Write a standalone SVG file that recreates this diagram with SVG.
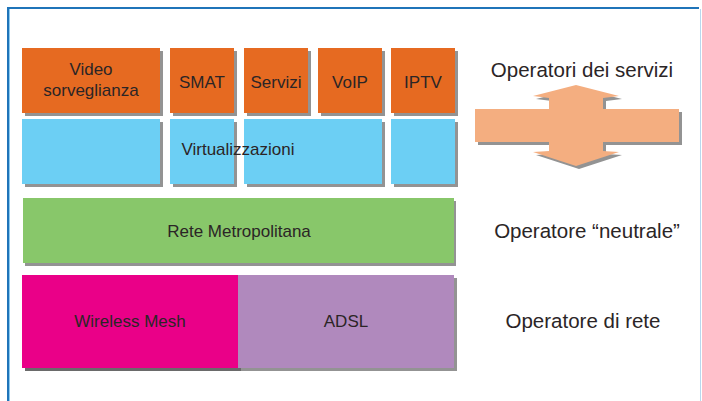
<svg xmlns="http://www.w3.org/2000/svg" width="702" height="401" viewBox="0 0 702 401">
<style>
.sh{fill:#939393}
.or{fill:#e66a21}
.bl{fill:#6ccff4}
.t{font-family:"Liberation Sans",Arial,sans-serif;font-size:17px;fill:#2b2526;text-anchor:middle}
.r{font-family:"Liberation Sans",Arial,sans-serif;font-size:20.5px;fill:#2b2526;text-anchor:middle}
</style>
<rect width="702" height="401" fill="#ffffff"/>
<g id="frame">
<line x1="7" y1="8" x2="699" y2="8" stroke="#1f74b9" stroke-width="2"/>
<line x1="8" y1="7" x2="8" y2="401" stroke="#1f74b9" stroke-width="2"/>
<line x1="9.5" y1="9" x2="9.5" y2="401" stroke="#8ccaf0" stroke-width="1"/>
<line x1="700.5" y1="9" x2="700.5" y2="401" stroke="#b8d8ee" stroke-width="1"/>
</g>
<g id="video">
<rect class="sh" x="25" y="51" width="138" height="65"/>
<rect class="or" x="22" y="48" width="138" height="65"/>
<text class="t" x="91" y="75">Video</text>
<text class="t" x="91" y="96">sorveglianza</text>
</g>
<g id="smat">
<rect class="sh" x="173" y="51" width="64" height="65"/>
<rect class="or" x="170" y="48" width="64" height="65"/>
<text class="t" x="202" y="88">SMAT</text>
</g>
<g id="servizi">
<rect class="sh" x="247" y="51" width="64" height="65"/>
<rect class="or" x="244" y="48" width="64" height="65"/>
<text class="t" x="276" y="88">Servizi</text>
</g>
<g id="voip">
<rect class="sh" x="321" y="51" width="64" height="65"/>
<rect class="or" x="318" y="48" width="64" height="65"/>
<text class="t" x="350" y="88">VoIP</text>
</g>
<g id="iptv">
<rect class="sh" x="394" y="51" width="64" height="65"/>
<rect class="or" x="391" y="48" width="64" height="65"/>
<text class="t" x="423" y="88">IPTV</text>
</g>
<g id="virtualizzazioni">
<rect class="sh" x="25" y="122" width="138" height="65"/>
<rect class="bl" x="22" y="119" width="138" height="65"/>
<rect class="sh" x="173" y="122" width="64" height="65"/>
<rect class="bl" x="170" y="119" width="64" height="65"/>
<rect class="sh" x="247" y="122" width="138" height="65"/>
<rect class="bl" x="244" y="119" width="138" height="65"/>
<rect class="sh" x="394" y="122" width="64" height="65"/>
<rect class="bl" x="391" y="119" width="64" height="65"/>
<text class="t" x="238" y="155">Virtualizzazioni</text>
</g>
<g id="rete-metropolitana">
<rect class="sh" x="25" y="201" width="431" height="65"/>
<rect x="23" y="198" width="431" height="65" fill="#88c76a"/>
<text class="t" x="239" y="237">Rete Metropolitana</text>
</g>
<g id="wireless-mesh">
<rect x="25" y="278" width="216" height="93" fill="#6a6a6a"/>
<rect x="22" y="275" width="216" height="93" fill="#ea0088"/>
<text class="t" x="130" y="327">Wireless Mesh</text>
</g>
<g id="adsl">
<rect class="sh" x="241" y="278" width="216" height="93"/>
<rect x="238" y="275" width="216" height="93" fill="#b089bd"/>
<text class="t" x="346" y="327">ADSL</text>
</g>
<g id="arrow">
<polygon class="sh" transform="translate(3,3)" points="576,85 619,96 603,98 603,109 679,109 679,142 603,142 603,151 619,152 576,166 533,152 549,151 549,142 475,142 475,109 549,109 549,98 533,96"/>
<polygon fill="#f4ae80" points="576,85 619,96 603,98 603,109 679,109 679,142 603,142 603,151 619,152 576,166 533,152 549,151 549,142 475,142 475,109 549,109 549,98 533,96"/>
</g>
<g id="labels">
<text class="r" x="582" y="77">Operatori dei servizi</text>
<text class="r" x="587" y="238">Operatore “neutrale”</text>
<text class="r" x="583" y="328">Operatore di rete</text>
</g>
</svg>
